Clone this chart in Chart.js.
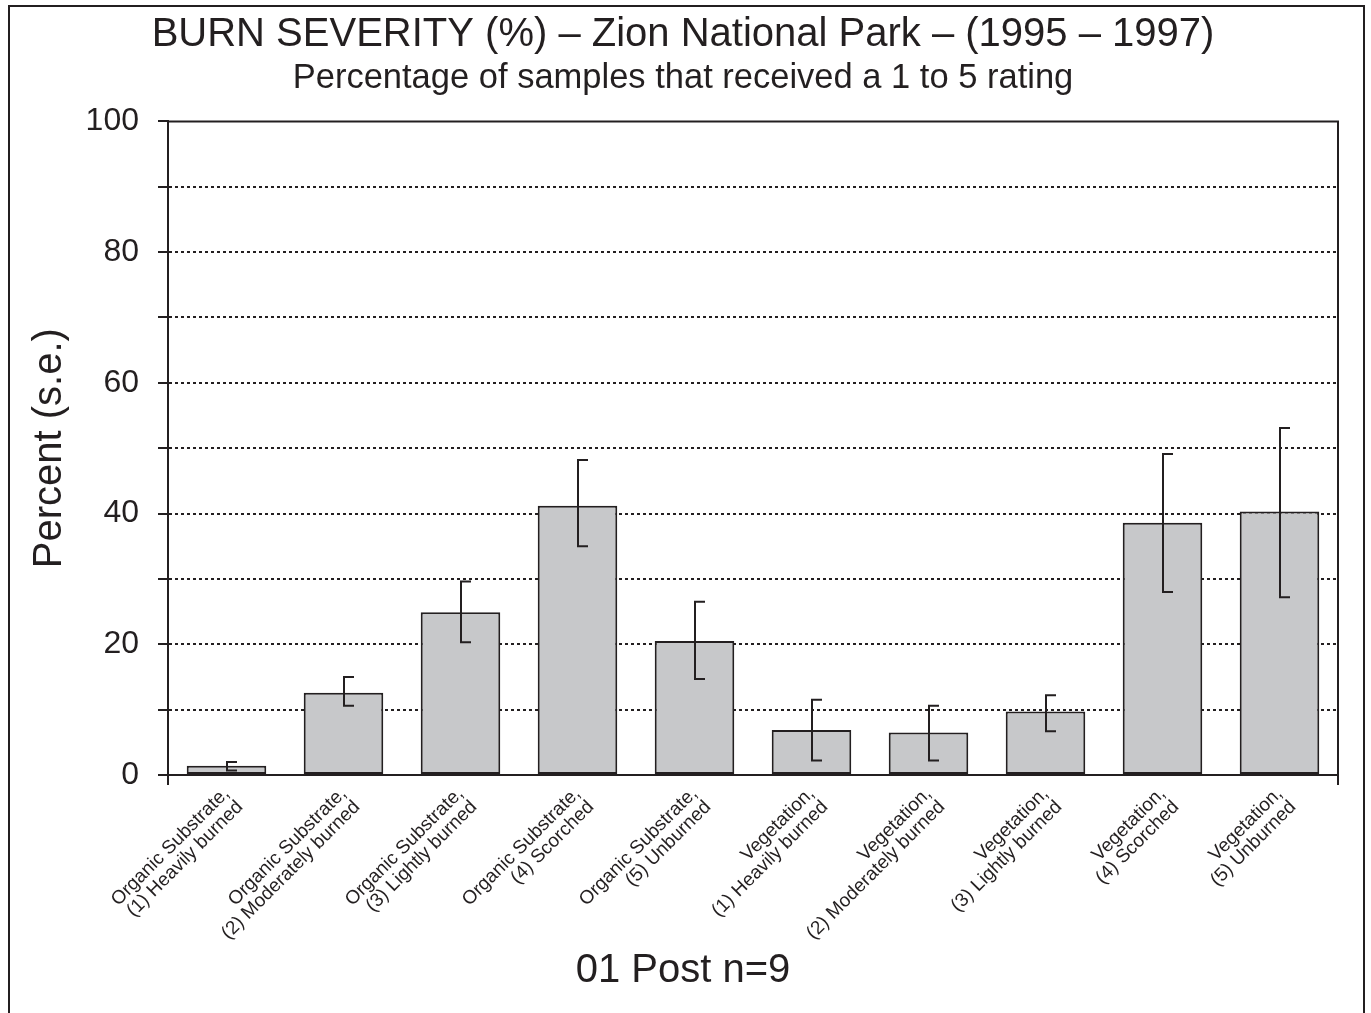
<!DOCTYPE html>
<html lang="en">
<head>
  <meta charset="UTF-8" />
  <title>Burn Severity - Zion National Park</title>
  <script src="https://cdn.jsdelivr.net/npm/chart.js"></script>
  <style>
    body {
      margin: 0;
      background: #fff;
    }
    .wrap {
      width: 1371px;
      height: 1013px;
      position: relative;
    }
  </style>
</head>
<body>
  <div class="wrap"><canvas id="burnChart"></canvas></div>

  <script>
    const chartTitle = "BURN SEVERITY (%) \u2013 Zion National Park \u2013 (1995 \u2013 1997)";
    const chartSubtitle = "Percentage of samples that received a 1 to 5 rating";
    const yTitle = "Percent (s.e.)";
    const xTitle = "01 Post n=9";

    const categories = [
      ["Organic Substrate,", "(1) Heavily burned"],
      ["Organic Substrate,", "(2) Moderately burned"],
      ["Organic Substrate,", "(3) Lightly burned"],
      ["Organic Substrate,", "(4) Scorched"],
      ["Organic Substrate,", "(5) Unburned"],
      ["Vegetation,", "(1) Heavily burned"],
      ["Vegetation,", "(2) Moderately burned"],
      ["Vegetation,", "(3) Lightly burned"],
      ["Vegetation,", "(4) Scorched"],
      ["Vegetation,", "(5) Unburned"]
    ];
    const percent = [1.4, 12.6, 24.9, 41.2, 20.5, 6.9, 6.5, 9.7, 38.6, 40.3];
    const seHigh = [2.0, 15.0, 29.6, 48.2, 26.5, 11.5, 10.6, 12.2, 49.1, 53.1];
    const seLow = [0.7, 10.6, 20.3, 35.0, 14.7, 2.2, 2.2, 6.7, 28.0, 27.2];
    const yLabelled = [0, 20, 40, 60, 80, 100];

    const ink = "#231f20";
    const font = "'Liberation Sans', Arial, sans-serif";

    // outer border + plot frame (top/right lines, small stubs under the x axis)
    const framePlugin = {
      id: "frame",
      beforeDraw(chart) {
        const c = chart.ctx;
        c.save();
        c.fillStyle = "#fff";
        c.fillRect(0, 0, chart.width, chart.height);
        c.strokeStyle = ink;
        c.lineWidth = 2;
        c.beginPath();
        c.moveTo(9, chart.height);
        c.lineTo(9, 6);
        c.lineTo(1364, 6);
        c.lineTo(1364, chart.height);
        c.stroke();
        c.restore();
      },
      afterDraw(chart) {
        const { left, right, top, bottom } = chart.chartArea;
        const c = chart.ctx;
        c.save();
        c.strokeStyle = ink;
        c.lineWidth = 2;
        c.beginPath();
        c.moveTo(left, top);
        c.lineTo(right, top);
        c.lineTo(right, bottom + 10);
        c.moveTo(left, bottom);
        c.lineTo(left, bottom + 10);
        c.stroke();

        // x axis caption sits under the page centre, not the plot centre
        const tb = chart.titleBlock;
        const cx = tb ? (tb.left + tb.right) / 2 : chart.width / 2;
        c.fillStyle = ink;
        c.font = "40px " + font;
        c.textAlign = "center";
        c.textBaseline = "middle";
        c.fillText(xTitle, cx, chart.scales.x.bottom - 42);
        c.restore();
      }
    };

    // half-capped error bars, like the original
    const errorBarPlugin = {
      id: "errorBars",
      afterDatasetsDraw(chart) {
        const xs = chart.scales.x;
        const ys = chart.scales.y;
        const c = chart.ctx;
        c.save();
        c.strokeStyle = ink;
        c.lineWidth = 2;
        seHigh.forEach((hi, i) => {
          const px = Math.round(xs.getPixelForValue(i));
          const yh = ys.getPixelForValue(hi);
          const yl = ys.getPixelForValue(seLow[i]);
          c.beginPath();
          c.moveTo(px + 10, yh);
          c.lineTo(px, yh);
          c.lineTo(px, yl);
          c.lineTo(px + 10, yl);
          c.stroke();
        });
        c.restore();
      }
    };

    new Chart(document.getElementById("burnChart"), {
      type: "bar",
      data: {
        labels: categories,
        datasets: [{
          data: percent,
          backgroundColor: "#c7c8ca",
          borderColor: ink,
          borderWidth: 2,
          borderSkipped: false,
          categoryPercentage: 1,
          barPercentage: 0.68
        }]
      },
      options: {
        responsive: true,
        maintainAspectRatio: false,
        animation: false,
        layout: { padding: { top: 0, right: 33, bottom: 0, left: 28 } },
        plugins: {
          legend: { display: false },
          tooltip: { enabled: false },
          title: {
            display: true,
            text: chartTitle,
            color: ink,
            font: { family: font, size: 40, weight: "normal", lineHeight: 1.0 },
            padding: { top: 15, bottom: 0 }
          },
          subtitle: {
            display: true,
            text: chartSubtitle,
            color: ink,
            font: { family: font, size: 34.5, weight: "normal", lineHeight: 1.2 },
            padding: { top: 3, bottom: 22 }
          }
        },
        scales: {
          x: {
            afterFit(scale) { scale.height = 238; },
            grid: { display: false, drawTicks: false },
            border: { display: true, color: ink, width: 2 },
            ticks: {
              color: ink,
              font: { family: font, size: 19, lineHeight: 1.0 },
              minRotation: 45,
              maxRotation: 45,
              autoSkip: false,
              padding: 9
            },
            title: { display: false }
          },
          y: {
            min: 0,
            max: 100,
            afterFit(scale) { scale.width = 140; },
            grid: {
              color: (ctx) => (ctx.tick && (ctx.tick.value === 0 || ctx.tick.value === 100)) ? "rgba(0,0,0,0)" : ink,
              lineWidth: 2,
              tickColor: ink,
              tickLength: 10,
              tickWidth: 2
            },
            border: { display: true, color: ink, width: 2, dash: [3, 3] },
            ticks: {
              stepSize: 10,
              autoSkip: false,
              color: ink,
              padding: 19,
              font: { family: font, size: 32 },
              callback: (v) => yLabelled.includes(v) ? String(v) : ""
            },
            title: {
              display: true,
              text: yTitle,
              color: ink,
              font: { family: font, size: 40, lineHeight: 1.1 },
              padding: { top: 0, bottom: 0 }
            }
          }
        }
      },
      plugins: [framePlugin, errorBarPlugin]
    });
  </script>
</body>
</html>
